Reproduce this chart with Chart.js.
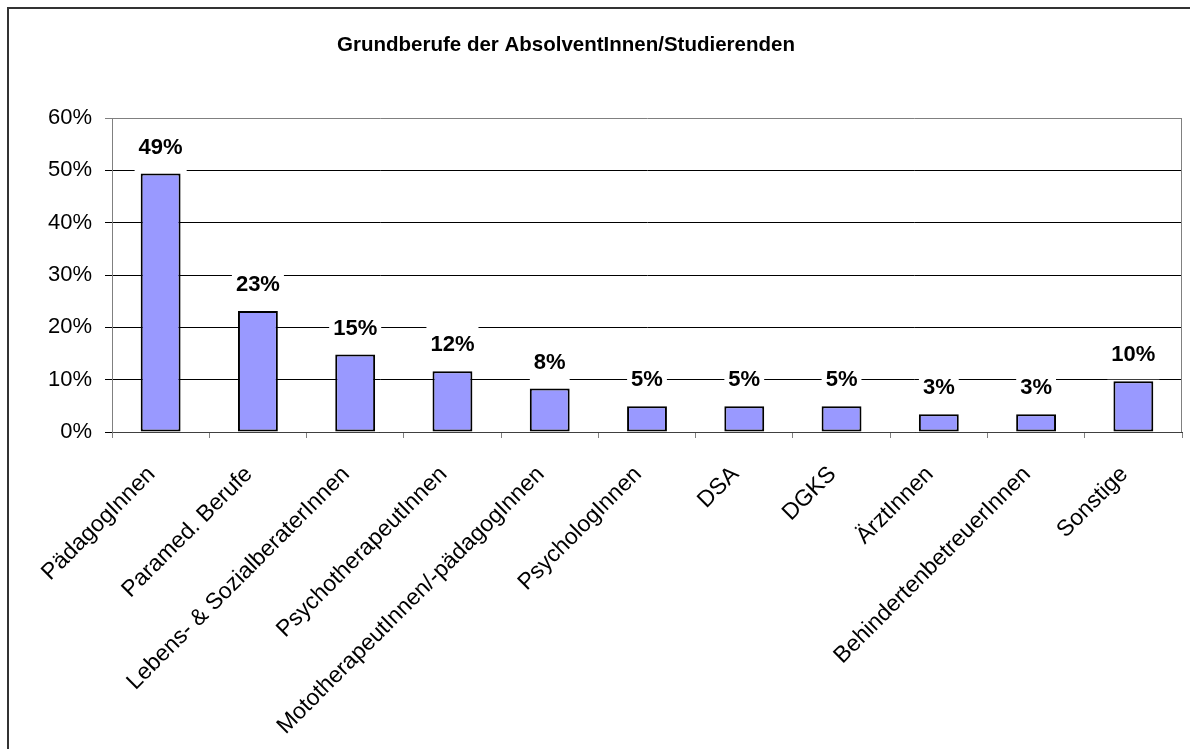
<!DOCTYPE html>
<html>
<head>
<meta charset="utf-8">
<script src="https://cdn.jsdelivr.net/npm/chart.js@4.4.0/dist/chart.umd.min.js"></script>
<style>
  html, body { margin: 0; padding: 0; background: #fff; }
  #wrap { position: relative; width: 1190px; height: 749px; }
</style>
</head>
<body>
<div id="wrap"><canvas id="berufe-chart"></canvas></div>
<script>
// Chart data
const chartTitle = 'Grundberufe der AbsolventInnen/Studierenden';
const categories = [
  'PädagogInnen',
  'Paramed. Berufe',
  'Lebens- & SozialberaterInnen',
  'PsychotherapeutInnen',
  'MototherapeutInnen/-pädagogInnen',
  'PsychologInnen',
  'DSA',
  'DGKS',
  'ÄrztInnen',
  'BehindertenbetreuerInnen',
  'Sonstige'
];
const shares = [49.4, 23.1, 14.8, 11.6, 8.3, 4.9, 4.9, 4.9, 3.4, 3.4, 9.7];
const yTicks = [0, 10, 20, 30, 40, 50, 60];

Chart.defaults.font.family = '"Liberation Sans", Arial, sans-serif';
Chart.defaults.color = '#000';

// Frame around the whole chart + title
const framePlugin = {
  id: 'frame',
  beforeDraw(chart) {
    const ctx = chart.ctx;
    ctx.save();
    ctx.fillStyle = '#fff';
    ctx.fillRect(0, 0, chart.width, chart.height);
    ctx.strokeStyle = '#333';
    ctx.lineWidth = 2;
    ctx.beginPath();
    ctx.moveTo(8, chart.height);
    ctx.lineTo(8, 8);
    ctx.lineTo(chart.width, 8);
    ctx.stroke();
    ctx.font = 'bold 20.5px "Liberation Sans", Arial, sans-serif';
    ctx.fillStyle = '#000';
    ctx.textAlign = 'center';
    ctx.textBaseline = 'alphabetic';
    ctx.fillText(chartTitle, 566, 51);
    ctx.restore();
  },
  beforeDatasetsDraw(chart) {
    // grey right edge of the plot area
    const { ctx, chartArea } = chart;
    ctx.save();
    ctx.strokeStyle = '#808080';
    ctx.lineWidth = 1;
    ctx.beginPath();
    ctx.moveTo(Math.round(chartArea.right) - 0.5, chartArea.top);
    ctx.lineTo(Math.round(chartArea.right) - 0.5, chartArea.bottom);
    ctx.stroke();
    ctx.restore();
  }
};

// Percent labels with white box above each bar
const valueLabels = {
  id: 'valueLabels',
  afterDatasetsDraw(chart) {
    const ctx = chart.ctx;
    const meta = chart.getDatasetMeta(0);
    ctx.save();
    ctx.font = 'bold 22px "Liberation Sans", Arial, sans-serif';
    ctx.textAlign = 'center';
    ctx.textBaseline = 'middle';
    meta.data.forEach((bar, i) => {
      const txt = Math.round(shares[i]) + '%';
      const w = ctx.measureText(txt).width + 8;
      const cy = bar.y - 26;
      ctx.fillStyle = '#fff';
      ctx.fillRect(bar.x - w / 2, cy - 24, w, 48);
      ctx.fillStyle = '#000';
      ctx.fillText(txt, bar.x, cy);
    });
    ctx.restore();
  }
};

const berufeChart = new Chart(document.getElementById('berufe-chart'), {
  type: 'bar',
  data: {
    labels: categories,
    datasets: [{
      label: 'Anteil',
      data: shares,
      backgroundColor: '#9999FF',
      borderColor: '#000',
      borderWidth: 2,
      borderSkipped: false,
      categoryPercentage: 1,
      barPercentage: 0.41
    }]
  },
  options: {
    responsive: true,
    maintainAspectRatio: false,
    animation: false,
    layout: { padding: { top: 118, right: 8, left: 0, bottom: 0 } },
    plugins: {
      legend: { display: false },
      tooltip: { enabled: false },
      title: { display: false }
    },
    scales: {
      x: {
        afterFit(scale) { scale.height = 317; },
        border: { color: '#404040', width: 1 },
        grid: {
          offset: true,
          drawOnChartArea: false,
          tickLength: 6,
          color: '#808080'
        },
        ticks: {
          autoSkip: false,
          minRotation: 45,
          maxRotation: 45,
          labelOffset: -9,
          padding: 23,
          font: { size: 23 }
        }
      },
      y: {
        min: 0,
        max: 60,
        afterFit(scale) { scale.width = 112; },
        afterBuildTicks(scale) {
          scale.ticks = yTicks.map(v => ({ value: v }));
        },
        border: { color: '#808080', width: 1 },
        grid: {
          tickLength: 7,
          color: ctx => (ctx.tick && ctx.tick.value === 60 ? '#808080' : '#000')
        },
        ticks: {
          padding: 13,
          font: { size: 22 },
          callback: v => v + '%'
        }
      }
    }
  },
  plugins: [framePlugin, valueLabels]
});
</script>
</body>
</html>
